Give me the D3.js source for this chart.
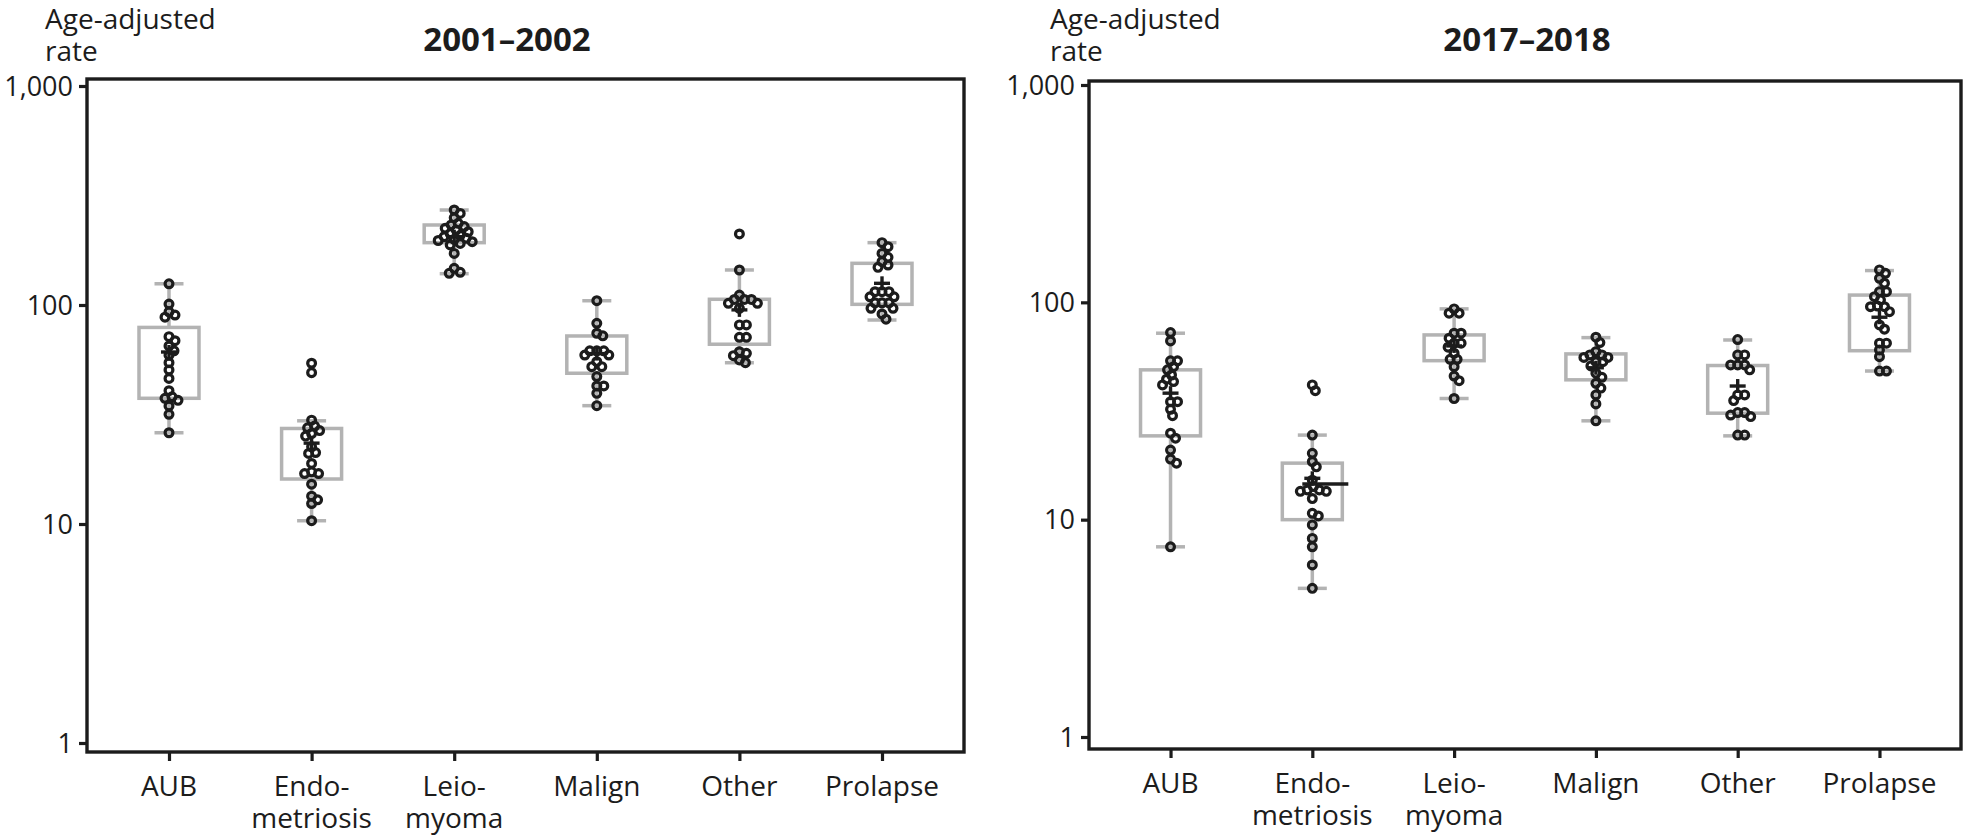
<!DOCTYPE html>
<html>
<head>
<meta charset="utf-8">
<script src="https://cdn.jsdelivr.net/npm/d3@7"></script>
<style>
  html, body { margin: 0; padding: 0; background: #fff; }
  svg { display: block; }
  text { font-family: "Open Sans", "Noto Sans", sans-serif; fill: #1c1c1c; }
</style>
</head>
<body>
<svg id="chart" width="1968" height="836"></svg>
<script>
// ---------------- DATA ----------------
const categories = ["AUB", "Endo", "Leio", "Malign", "Other", "Prolapse"];
const categoryLabels = [["AUB"], ["Endo-", "metriosis"], ["Leio-", "myoma"], ["Malign"], ["Other"], ["Prolapse"]];
const yTickValues = [1, 10, 100, 1000];
const periods = ["2001\u20132002", "2017\u20132018"];
const yLabelLines = ["Age-adjusted", "rate"];

// 2001–2002 individual rates
const p1AUB = [125, 101, 93, 90, 88, 71.7, 68.7, 65, 61.8, 59, 54.5, 50.5, 46.2, 40.6, 38.1, 37.5, 36.7, 34.6, 31.7, 26.1];
const p1Endo = [54.2, 49.1, 29.8, 28, 27.5, 26.7, 25.9, 25.2, 22.5, 21.2, 21.0, 18.9, 17.3, 17.0, 17.0, 15.2, 13.4, 12.9, 12.4, 10.35];
const p1Leio = [271.5, 262, 250, 236, 232, 228, 224, 220, 216, 212, 208, 205, 202, 199.5, 197, 194.5, 191, 188, 172, 147, 141, 139.6];
const p1Malign = [104.6, 82.5, 74.3, 72.3, 61.8, 61.8, 61.8, 59.1, 59.1, 55.1, 52.3, 52.3, 47.1, 42.7, 42.7, 39.5, 34.7];
const p1Other = [211, 144.5, 111, 106, 106, 106, 101.8, 101.8, 96.6, 81.1, 81.1, 71.2, 71.2, 61.2, 60.2, 58.7, 56.1, 54.5];
const p1Prolapse = [192.6, 184.6, 172, 165, 157.7, 152.3, 148.6, 115, 115, 115, 109, 109, 102.4, 102.4, 102.4, 96.6, 96.6, 91, 86.1];

// 2001–2002 box statistics (whisker low, Q1, Q3, whisker high, mean)
const p1Low = [26.1, 10.35, 139, 34.7, 54.5, 85.4];
const p1Q1 = [37.5, 16.05, 192.6, 48.8, 66.2, 100.7];
const p1Q3 = [79, 27.3, 231.9, 72.2, 106.2, 155];
const p1High = [125, 29.6, 271.5, 104.6, 144.5, 192.6];
const p1Mean = [61, 23.4, 205, 60, 95, 125.6];

// 2017–2018 individual rates
const p2AUB = [72.6, 66.4, 53.8, 53.8, 50.6, 48.9, 46.3, 44.3, 43.2, 41.7, 34.9, 34.9, 32.2, 30.1, 25, 23.7, 20.9, 19.0, 18.2, 7.5];
const p2Endo = [41.7, 39.2, 24.5, 20.2, 18.5, 17.5, 15.2, 14.2, 13.7, 13.7, 13.5, 13.5, 12.5, 10.7, 10.4, 9.46, 8.2, 7.5, 6.19, 4.83];
const p2Leio = [93.3, 89.1, 89.1, 72.1, 72.1, 68.4, 64.9, 64.9, 62.2, 58.3, 54.7, 54.7, 50.6, 45.8, 43.6, 36.1];
const p2Malign = [69.1, 65.3, 59.3, 57.3, 57.3, 55.8, 55.8, 53.3, 53.3, 51, 47.2, 45.2, 42.4, 40.3, 37.5, 34.1, 28.5];
const p2Other = [67.4, 57.3, 57.3, 51.5, 51.5, 51.5, 48.9, 37.5, 37.5, 35.3, 31.1, 31.1, 30.3, 29.8, 24.5, 24.5];
const p2Prolapse = [141, 136, 129, 122.5, 112, 112, 106.2, 102.6, 96.2, 95.5, 95.5, 90.6, 78.7, 75.2, 64.9, 64.9, 60.4, 56.2, 48.3, 48.3];

// 2017–2018 box statistics
const p2Low = [7.5, 4.83, 36.1, 28.5, 24.3, 48.3];
const p2Q1 = [24.3, 10.0, 53.9, 44, 30.9, 59.9];
const p2Q3 = [48.9, 18.2, 70.8, 57.9, 51.2, 108];
const p2High = [72.1, 24.5, 93.3, 68.8, 67.1, 140];
const p2Mean = [38.2, 15.5, 63, 50, 41.2, 85.4];

// Extra black reference line drawn in the 2017–2018 Endometriosis group
const p2ExtraLineCategory = ["Endo"];
const p2ExtraLineValue = [14.6];

// ---------------- LAYOUT ----------------
const panelData = [
  { title: periods[0], points: [p1AUB, p1Endo, p1Leio, p1Malign, p1Other, p1Prolapse],
    low: p1Low, q1: p1Q1, q3: p1Q3, high: p1High, mean: p1Mean, extraCat: [], extraVal: [] },
  { title: periods[1], points: [p2AUB, p2Endo, p2Leio, p2Malign, p2Other, p2Prolapse],
    low: p2Low, q1: p2Q1, q3: p2Q3, high: p2High, mean: p2Mean,
    extraCat: p2ExtraLineCategory, extraVal: p2ExtraLineValue }
];
const panelLayout = [
  { left: 87, right: 964, top: 79, bottom: 752, yTop: 86, yBottom: 743, titleX: 507, labelX: 45 },
  { left: 1089, right: 1961, top: 81, bottom: 749, yTop: 85, yBottom: 737, titleX: 1527, labelX: 1050 }
];

const INK = "#1c1c1c";
const GRAY = "#b3b3b3";
const svg = d3.select("#chart");

function swarm(values, yScale, minDist) {
  const order = values.map((v, i) => i).sort((a, b) => values[b] - values[a]);
  const placed = [];
  const dx = new Array(values.length).fill(0);
  order.forEach(i => {
    const y = yScale(values[i]);
    let best = 0;
    for (let k = 0; k <= 80; k++) {
      const cands = k === 0 ? [0] : (k % 2 ? [(k + 1) / 2, -(k + 1) / 2] : [k / 2, -k / 2]);
      let found = null;
      for (const c of cands) {
        if (placed.every(p => Math.hypot(p.x - c, p.y - y) >= minDist)) { found = c; break; }
      }
      if (found !== null) { best = found; break; }
    }
    dx[i] = best;
    placed.push({ x: best, y: y });
  });
  return dx;
}

panelData.forEach((pd, pi) => {
  const L = panelLayout[pi];
  const g = svg.append("g");

  const y = d3.scaleLog().domain([1, 1000]).range([L.yBottom, L.yTop]);
  const x = d3.scalePoint().domain(categories).range([L.left, L.right]).padding(0.575);

  // Y axis ticks
  const yAxis = d3.axisLeft(y).tickValues(yTickValues).tickFormat(d3.format(","))
    .tickSize(8).tickSizeOuter(0).tickPadding(6);
  const ya = g.append("g").attr("transform", `translate(${L.left},0)`).call(yAxis);
  ya.select(".domain").remove();
  ya.selectAll(".tick line").attr("stroke", INK).attr("stroke-width", 3.2);
  ya.selectAll(".tick text").attr("font-size", 27).attr("fill", INK)
    .attr("font-family", "'Open Sans', sans-serif").attr("dy", "0.34em");

  // X axis ticks
  const xAxis = d3.axisBottom(x).tickSize(9).tickSizeOuter(0).tickFormat("");
  const xa = g.append("g").attr("transform", `translate(0,${L.bottom})`).call(xAxis);
  xa.select(".domain").remove();
  xa.selectAll(".tick line").attr("stroke", INK).attr("stroke-width", 3.2);

  // Category labels (two lines where hyphenated)
  categories.forEach((c, ci) => {
    categoryLabels[ci].forEach((line, li) => {
      g.append("text").attr("x", x(c)).attr("y", L.bottom + 44 + li * 32)
        .attr("text-anchor", "middle").attr("font-size", 28).text(line);
    });
  });

  // Frame
  g.append("rect").attr("x", L.left).attr("y", L.top)
    .attr("width", L.right - L.left).attr("height", L.bottom - L.top)
    .attr("fill", "none").attr("stroke", INK).attr("stroke-width", 3.4);

  // Title
  g.append("text").attr("x", L.titleX).attr("y", 51).attr("text-anchor", "middle")
    .attr("font-size", 33).style("font-weight", "700").text(pd.title);

  // Y label (two lines)
  yLabelLines.forEach((line, li) => {
    g.append("text").attr("x", L.labelX).attr("y", 29 + li * 32).attr("font-size", 28).text(line);
  });

  // Box plots
  categories.forEach((c, ci) => {
    const cx = x(c);
    const bw = 30, cw = 14.5;
    const box = g.append("g");
    box.append("line").attr("x1", cx).attr("x2", cx).attr("y1", y(pd.q3[ci])).attr("y2", y(pd.high[ci]))
      .attr("stroke", GRAY).attr("stroke-width", 3.5);
    box.append("line").attr("x1", cx).attr("x2", cx).attr("y1", y(pd.q1[ci])).attr("y2", y(pd.low[ci]))
      .attr("stroke", GRAY).attr("stroke-width", 3.5);
    box.append("rect").attr("x", cx - bw).attr("y", y(pd.q3[ci]))
      .attr("width", 2 * bw).attr("height", y(pd.q1[ci]) - y(pd.q3[ci]))
      .attr("fill", "none").attr("stroke", GRAY).attr("stroke-width", 3.5);
    [pd.low[ci], pd.high[ci]].forEach(v => {
      box.append("line").attr("x1", cx - cw).attr("x2", cx + cw).attr("y1", y(v)).attr("y2", y(v))
        .attr("stroke", GRAY).attr("stroke-width", 3.5);
    });
    // Mean marker "+"
    const my = y(pd.mean[ci]);
    box.append("line").attr("x1", cx - 8).attr("x2", cx + 8).attr("y1", my).attr("y2", my)
      .attr("stroke", INK).attr("stroke-width", 3.4);
    box.append("line").attr("x1", cx).attr("x2", cx).attr("y1", my - 7).attr("y2", my + 7)
      .attr("stroke", INK).attr("stroke-width", 3.4);

    // Points
    const vals = pd.points[ci];
    const dx = swarm(vals, y, 6.5);
    box.selectAll("circle").data(vals).join("circle")
      .attr("cx", (d, i) => cx + dx[i]).attr("cy", d => y(d)).attr("r", 3.9)
      .attr("fill", "none").attr("stroke", INK).attr("stroke-width", 3.2);
  });

  // Extra reference line
  pd.extraCat.forEach((c, k) => {
    const cx = x(c), ly = y(pd.extraVal[k]);
    g.append("line").attr("x1", cx - 10).attr("x2", cx + 36).attr("y1", ly).attr("y2", ly)
      .attr("stroke", INK).attr("stroke-width", 3.4);
  });
});
</script>
</body>
</html>
